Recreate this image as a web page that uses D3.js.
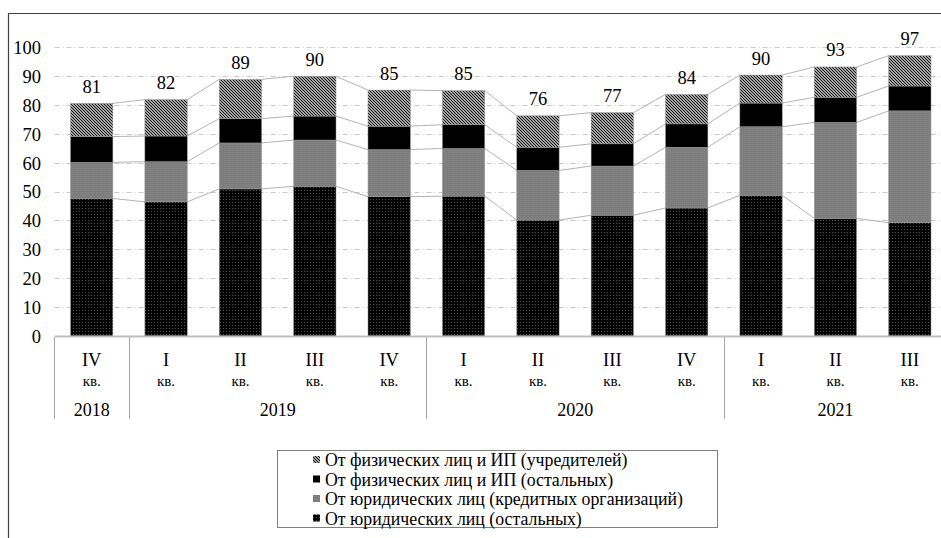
<!DOCTYPE html>
<html><head><meta charset="utf-8">
<script src="https://cdn.jsdelivr.net/npm/d3@7"></script>
<style>
html,body{margin:0;padding:0;background:#fff;}
svg, svg text{font-family:"Liberation Serif","Times New Roman","DejaVu Serif",serif !important;}
</style></head>
<body>
<svg id="chart" width="941" height="538"></svg>
<script>
// ---- data ----
const quarters = ["IV","I","II","III","IV","I","II","III","IV","I","II","III"];
const years = ["2018","2019","2020","2021"];
const yearSpans = [1,4,4,3];
const jurOther   = [47.6, 46.4, 50.9, 51.8, 48.2, 48.4, 40.1, 41.8, 44.3, 48.7, 40.7, 39.2];
const jurCredit  = [12.5, 13.9, 15.9, 16.0, 16.3, 16.5, 17.2, 17.0, 21.0, 23.7, 33.2, 38.7];
const physOther  = [8.9, 8.9, 8.4, 8.3, 8.1, 8.2, 8.0, 7.7, 8.1, 8.2, 8.7, 8.6];
const physFound  = [11.5, 12.6, 13.6, 13.8, 12.5, 11.8, 10.9, 10.8, 10.2, 9.7, 10.5, 10.5];
const totals     = [81, 82, 89, 90, 85, 85, 76, 77, 84, 90, 93, 97];
const yTicks = [0,10,20,30,40,50,60,70,80,90,100];
const seriesNames = [
  "От юридических лиц (остальных)",
  "От юридических лиц (кредитных организаций)",
  "От физических лиц и ИП (остальных)",
  "От физических лиц и ИП (учредителей)"
];

const FONT = '"Liberation Serif","Times New Roman","DejaVu Serif",serif';
const svg = d3.select("#chart").attr("font-family",FONT);
svg.append("rect").attr("width",941).attr("height",538).attr("fill","#fff");

// patterns
const defs = svg.append("defs");
const pDots = defs.append("pattern").attr("id","pDots").attr("patternUnits","userSpaceOnUse")
  .attr("width",3).attr("height",3);
pDots.append("rect").attr("width",3).attr("height",3).attr("fill","#000");
pDots.append("rect").attr("x",1).attr("y",1).attr("width",1).attr("height",1).attr("fill","#505050");
const pGray = defs.append("pattern").attr("id","pGray").attr("patternUnits","userSpaceOnUse")
  .attr("width",2).attr("height",2);
pGray.append("rect").attr("width",2).attr("height",2).attr("fill","#7c7c7c");
pGray.append("rect").attr("width",1).attr("height",1).attr("fill","#868686");
const pDiag = defs.append("pattern").attr("id","pDiag").attr("patternUnits","userSpaceOnUse")
  .attr("width",3).attr("height",3);
pDiag.append("rect").attr("width",3).attr("height",3).attr("fill","#e0e0e0");
pDiag.append("path").attr("d","M-1,-1L4,4M-1,2L1,4M2,-1L4,1").attr("stroke","#111").attr("stroke-width",1.15);

const fills = ["url(#pDots)","url(#pGray)","#000","url(#pDiag)"];

// frame
svg.append("path").attr("d","M8.5,538V13.5H941").attr("fill","none").attr("stroke","#404040").attr("stroke-width",1.2);

// scales
const x = d3.scaleBand().domain(d3.range(quarters.length)).range([54.5, 947])
  .paddingInner(0.43).paddingOuter(0.215);
const y = d3.scaleLinear().domain([0,100]).range([336,47]);

// grid
svg.append("g").selectAll("line").data(yTicks.filter(t=>t>0)).join("line")
  .attr("x1",54.5).attr("x2",947).attr("y1",d=>Math.round(y(d))+0.5).attr("y2",d=>Math.round(y(d))+0.5)
  .attr("stroke","#c8c8c8").attr("stroke-width",1).attr("stroke-dasharray","5,3,1,3");

// y axis labels
const yAxis = d3.axisLeft(y).tickValues(yTicks).tickSize(0).tickPadding(0);
const gy = svg.append("g").attr("transform","translate(41,0)").call(yAxis).attr("font-family",FONT).attr("font-size",18.5);
gy.select(".domain").remove();
gy.selectAll("text").attr("font-family",FONT).attr("font-size",18.5).attr("fill","#000").attr("dy","0.35em");

// stack
const rows = quarters.map((q,i)=>({i, s0:jurOther[i], s1:jurCredit[i], s2:physOther[i], s3:physFound[i]}));
const stack = d3.stack().keys(["s0","s1","s2","s3"])(rows);

// series lines
const gLines = svg.append("g");
stack.forEach(layer=>{
  for(let i=0;i<layer.length-1;i++){
    gLines.append("line")
      .attr("x1",x(i)+x.bandwidth()).attr("y1",y(layer[i][1]))
      .attr("x2",x(i+1)).attr("y2",y(layer[i+1][1]))
      .attr("stroke","#b4b4b4").attr("stroke-width",1);
  }
});

// bars
stack.forEach((layer,k)=>{
  svg.append("g").selectAll("rect").data(layer).join("rect")
    .attr("x",(d,i)=>x(i)).attr("width",x.bandwidth())
    .attr("y",d=>y(d[1])).attr("height",d=>y(d[0])-y(d[1]))
    .attr("fill",fills[k]).attr("stroke","#9a9a9a").attr("stroke-width",0.5);
});

// total labels
svg.append("g").selectAll("text").data(totals).join("text")
  .attr("x",(d,i)=>x(i)+x.bandwidth()/2)
  .attr("y",(d,i)=>y(stack[3][i][1])-10.5)
  .attr("text-anchor","middle").attr("font-size",18.5).attr("fill","#000")
  .text(d=>d);

// x axis line
svg.append("line").attr("x1",54.5).attr("x2",947).attr("y1",336.5).attr("y2",336.5)
  .attr("stroke","#bfbfbf").attr("stroke-width",1.8);

// quarter labels
const gx = svg.append("g");
gx.selectAll("text.q").data(quarters).join("text").attr("class","q")
  .attr("x",(d,i)=>x(i)+x.bandwidth()/2).attr("y",365.5)
  .attr("text-anchor","middle").attr("font-size",18.5).text(d=>d);
gx.selectAll("text.kv").data(quarters).join("text").attr("class","kv")
  .attr("x",(d,i)=>x(i)+x.bandwidth()/2).attr("y",386)
  .attr("text-anchor","middle").attr("font-size",15).text("кв.");

// year groups
let start = 0;
const step = x.step();
const bounds = [];
years.forEach((yr,j)=>{
  const a = start, b = start + yearSpans[j];
  const xa = x(a) - (x.paddingInner()*step)/2;
  const xb = x(b-1) + x.bandwidth() + (x.paddingInner()*step)/2;
  bounds.push(xa);
  gx.append("text").attr("x",(xa+xb)/2).attr("y",415.5).attr("text-anchor","middle")
    .attr("font-size",18).text(yr);
  start = b;
});
gx.selectAll("line.sep").data(bounds).join("line").attr("class","sep")
  .attr("x1",d=>Math.round(d)+0.5).attr("x2",d=>Math.round(d)+0.5).attr("y1",337).attr("y2",419)
  .attr("stroke","#a6a6a6").attr("stroke-width",1);

// legend
const lg = svg.append("g");
lg.append("rect").attr("x",277.5).attr("y",450.5).attr("width",440).attr("height",77)
  .attr("fill","#fff").attr("stroke","#7f7f7f").attr("stroke-width",1);
const legOrder = [3,2,1,0];
legOrder.forEach((k,r)=>{
  const cy = 460 + r*19.5;
  lg.append("rect").attr("x",313).attr("y",cy-4).attr("width",7).attr("height",7).attr("fill",fills[k]);
  lg.append("text").attr("x",325).attr("y",cy+6).attr("font-size",17.8).text(seriesNames[k]);
});
</script>
</body></html>
